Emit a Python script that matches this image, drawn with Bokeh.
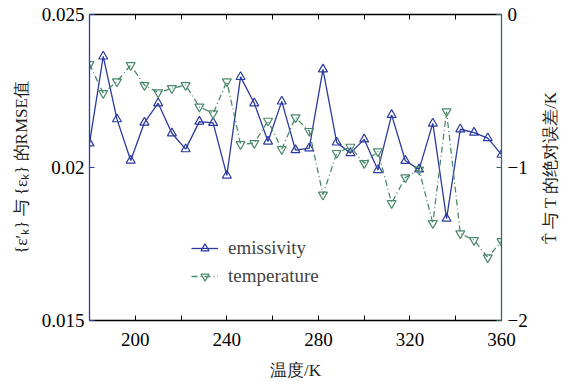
import math
from bokeh.plotting import figure
from bokeh.layouts import row
from bokeh.models import (Range1d, LinearAxis, FixedTicker, CustomJSTickFormatter,
                          Legend, LegendItem)
from bokeh.core.properties import value
from bokeh.embed import file_html
from bokeh.resources import INLINE

temperature_K = [180, 186, 192, 198, 204, 210, 216, 222, 228, 234, 240, 246, 252, 258, 264,
                 270, 276, 282, 288, 294, 300, 306, 312, 318, 324, 330, 336, 342, 348, 354, 360]
emissivity_rmse = [0.02079, 0.02363, 0.02158, 0.02023, 0.02147, 0.0221, 0.02112, 0.0206,
                   0.0215, 0.02146, 0.01974, 0.02296, 0.0221, 0.02085, 0.02216, 0.02057,
                   0.02063, 0.02321, 0.02082, 0.02047, 0.02092, 0.01992, 0.02172, 0.02022,
                   0.01994, 0.02144, 0.01833, 0.02125, 0.02114, 0.02096, 0.02042]
temperature_err = [-0.325, -0.514, -0.438, -0.331, -0.462, -0.510, -0.482, -0.462, -0.603,
                   -0.647, -0.438, -0.848, -0.841, -0.695, -0.880, -0.673, -0.762, -1.178,
                   -0.906, -0.865, -0.972, -0.895, -1.233, -1.065, -1.015, -1.364, -0.634,
                   -1.431, -1.475, -1.588, -1.482]
x_ticks = [200, 220, 240, 260, 280, 300, 320, 340, 360]
left_ticks = [0.015, 0.02, 0.025]
right_ticks = [-2, -1, 0]
x_title = "温度/K"
left_title = "{ε′ₖ} 与 {εₖ} 的RMSE值"
right_title = ["T̂ 与 T 的绝对误差/K"]

BLUE = "#2b3a9e"
GREEN = "#4b8a6c"
TEAL = "#3b6661"
SERIF = "Liberation Serif"
FS = "19px"
LFS = "17px"

p = figure(frame_width=412, frame_height=306, output_backend="svg", toolbar_location=None,
           x_range=Range1d(180, 360), y_range=Range1d(0.015, 0.025),
           min_border_left=89, min_border_right=37, min_border_top=14, min_border_bottom=58,
           x_axis_location="below", y_axis_location="left")
p.outline_line_color = None
p.xgrid.visible = False
p.ygrid.visible = False
p.extra_y_ranges = {"T": Range1d(-2, 0)}

def style(ax, color):
    ax.axis_line_color = color
    ax.axis_line_width = 1.3
    ax.major_tick_line_color = color
    ax.major_tick_in = 5
    ax.major_tick_out = 0
    ax.minor_tick_line_color = None
    ax.major_label_text_font = SERIF
    ax.major_label_text_font_size = FS
    ax.major_label_text_color = "black"
    ax.axis_label_text_font = SERIF
    ax.axis_label_text_font_size = LFS
    ax.axis_label_text_font_style = "normal"
    ax.axis_label_text_color = "#222222"

xa = p.xaxis[0]
style(xa, "black")
xa.ticker = FixedTicker(ticks=x_ticks)
xa.formatter = CustomJSTickFormatter(code="return (tick % 40 == 0) ? String(tick) : '';")
xa.axis_label = x_title
xa.major_label_standoff = 12
xa.axis_label_standoff = 12

top = LinearAxis(ticker=FixedTicker(ticks=x_ticks))
style(top, "black")
top.major_label_text_font_size = "0px"
top.major_label_standoff = 0
p.add_layout(top, "above")

ya = p.yaxis[0]
style(ya, BLUE)
ya.ticker = FixedTicker(ticks=left_ticks)
ya.formatter = CustomJSTickFormatter(code="return tick.toFixed(3).replace(/0+$/, '');")
ya.axis_label = left_title
ya.axis_label_standoff = 8

ra = LinearAxis(y_range_name="T", ticker=FixedTicker(ticks=right_ticks))
style(ra, TEAL)
ra.major_label_standoff = 6
ra.formatter = CustomJSTickFormatter(code="return tick < 0 ? '\u2212' + Math.abs(tick) : String(tick);")
p.add_layout(ra, "right")

l1 = p.line(temperature_K, emissivity_rmse, line_color=BLUE, line_width=1.3)
s1 = p.scatter(temperature_K, emissivity_rmse, marker="triangle", size=9,
               line_color=BLUE, fill_color="white", fill_alpha=0.0, line_width=1.2)
l2 = p.line(temperature_K, temperature_err, y_range_name="T", line_color=GREEN,
            line_width=1.3, line_dash="6 3 1 3")
s2 = p.scatter(temperature_K, temperature_err, y_range_name="T", marker="inverted_triangle",
               size=9, line_color=GREEN, fill_color="white", fill_alpha=0.0, line_width=1.2)

legend = Legend(items=[LegendItem(label="emissivity", renderers=[l1, s1]),
                       LegendItem(label="temperature", renderers=[l2, s2])],
                location=(102, 33), padding=0, margin=0, spacing=6,
                glyph_width=27, glyph_height=20, label_standoff=10,
                label_text_font=SERIF, label_text_font_size=FS,
                background_fill_alpha=0.0, border_line_color=None)
p.add_layout(legend, "center")

# narrow side panel carrying the right axis title (reads bottom to top)
side = figure(frame_width=24, frame_height=306, output_backend="svg", toolbar_location=None,
              x_range=Range1d(0, 1), y_range=Range1d(0, 1),
              min_border_left=0, min_border_right=0, min_border_top=14, min_border_bottom=58)
side.axis.visible = False
side.xgrid.visible = False
side.ygrid.visible = False
side.outline_line_color = None
side.text(x=[0.5], y=[0.5], text=right_title, angle=math.pi / 2,
          text_align="center", text_baseline="middle",
          text_font=value(SERIF), text_font_size=value(LFS), text_color="#222222")

layout = row(p, side, spacing=0)
open("out.html", "w").write(file_html(layout, INLINE))
